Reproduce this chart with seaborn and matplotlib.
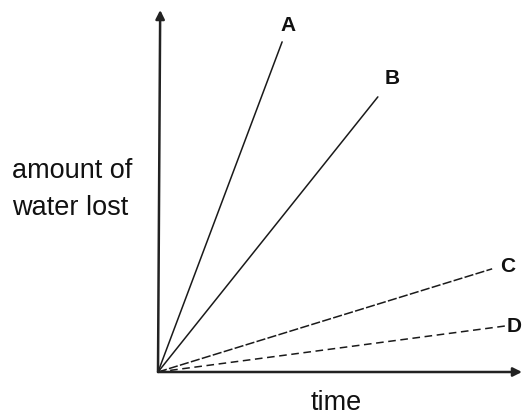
import matplotlib
matplotlib.use("Agg")
import matplotlib.pyplot as plt
import pandas as pd
import seaborn as sns

# Curves: each starts at the origin and rises linearly with time
labels = ["A", "B", "C", "D"]
end_time = [3.41, 6.04, 9.18, 9.53]
end_water = [9.12, 7.60, 2.85, 1.27]

rows = []
for lab, t, w in zip(labels, end_time, end_water):
    rows.append({"leaf": lab, "time": 0.0, "water": 0.0})
    rows.append({"leaf": lab, "time": t, "water": w})
df = pd.DataFrame(rows)

sns.set_style("white")
plt.rcParams["font.family"] = ["Liberation Sans", "DejaVu Sans"]

fig = plt.figure(figsize=(5.23, 4.16), dpi=100)
ax = fig.add_axes([158 / 523, 44 / 416, 364 / 523, 362 / 416])

dash_map = {"A": "", "B": "", "C": (6, 1.5), "D": (5, 3)}
sns.lineplot(data=df, x="time", y="water", hue="leaf", style="leaf",
             dashes=dash_map, palette=["#1a1a1a"] * 4, linewidth=1.1,
             legend=False, ax=ax, estimator=None, sort=False)

ax.set_xlim(0, 10)
ax.set_ylim(0, 10)
ax.set_xticks([])
ax.set_yticks([])
for s in ax.spines.values():
    s.set_visible(False)
ax.set_xlabel("")
ax.set_ylabel("")

# Axis arrows
arrow = dict(arrowstyle="-|>", color="#222222", lw=1.8, mutation_scale=13,
             shrinkA=0, shrinkB=0)
ax.annotate("", xy=(0.006, 1.0), xytext=(0, 0), xycoords="axes fraction",
            arrowprops=arrow, annotation_clip=False)
ax.annotate("", xy=(1.0, 0), xytext=(0, 0), xycoords="axes fraction",
            arrowprops=arrow, annotation_clip=False)

# Curve labels next to the line ends
offsets = {"A": (-1, 12), "B": (5, 13), "C": (6, 2), "D": (1, 0)}
for lab, t, w in zip(labels, end_time, end_water):
    ax.annotate(lab, xy=(t, w), xytext=offsets[lab], textcoords="offset points",
                ha="left", va="center", fontsize=15, fontweight="bold",
                color="#111111", annotation_clip=False)

fig.text(12 / 523, 1 - 178 / 416, "amount of", ha="left", va="baseline",
         fontsize=19.5, color="#111111")
fig.text(12 / 523, 1 - 215 / 416, "water lost", ha="left", va="baseline",
         fontsize=19.5, color="#111111")
fig.text(336 / 523, 1 - 410 / 416, "time", ha="center", va="baseline",
         fontsize=19.5, color="#111111")

fig.savefig("out.png", dpi=100)
